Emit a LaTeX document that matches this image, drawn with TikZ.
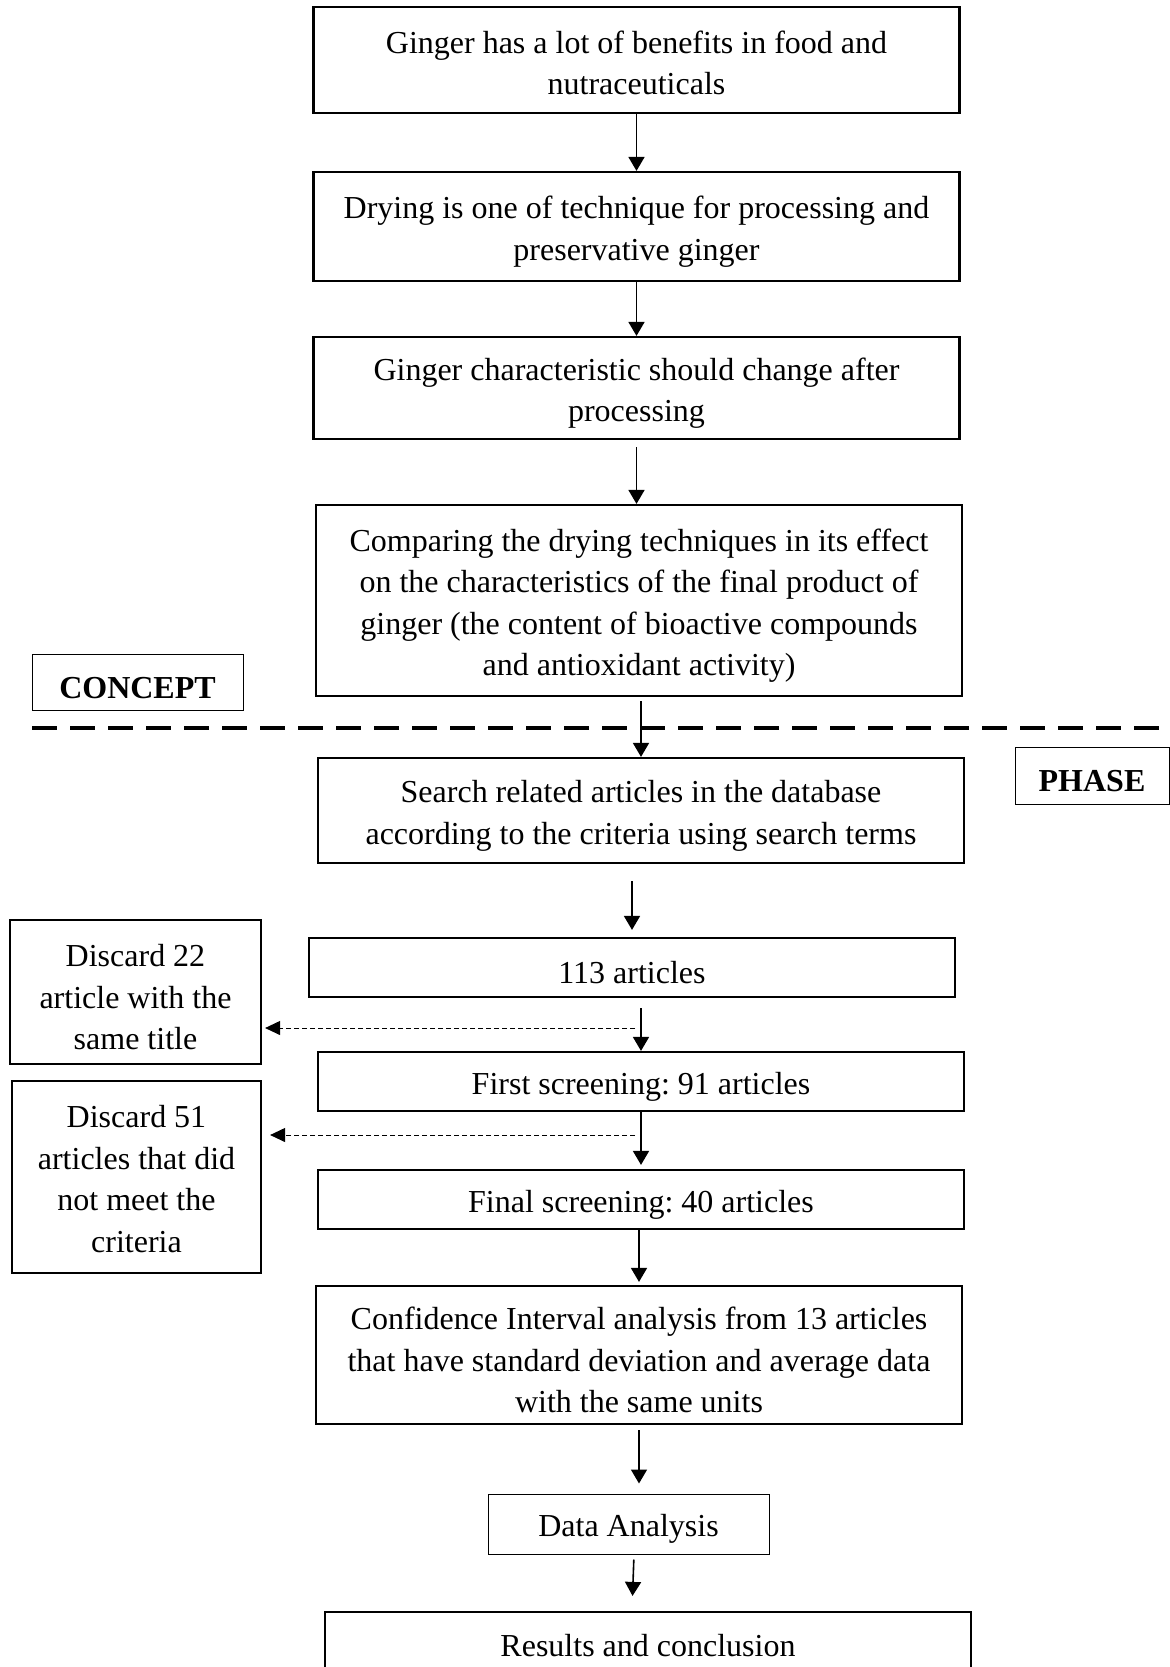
\documentclass[tikz,border=0pt]{standalone}
\usepackage{fontspec}
\setmainfont{Liberation Serif}
\usetikzlibrary{arrows.meta,calc,positioning}
\frenchspacing
\newcommand\gap[1][16.3pt]{\rule{0pt}{#1}}
\tikzset{
  stepbox/.style={draw,line width=1.1pt,minimum width=323pt,inner sep=0pt,align=center,font=\fontsize{16}{20.7}\selectfont},
  sidebox/.style={draw,line width=1.1pt,inner sep=0pt,align=center,font=\fontsize{16}{20.7}\selectfont},
  tagbox/.style={draw,line width=0.5pt,inner sep=0pt,align=center,font=\fontsize{16}{20.7}\selectfont\bfseries},
  arr/.style={-{Triangle[length=7pt,width=8pt]},line width=0.8pt},
  dasharr/.style={-{Triangle[length=7.5pt,width=7pt]},line width=0.5pt,dash pattern=on 2.5pt off 1.5pt},
  sepline/.style={line width=2pt,dash pattern=on 12.5pt off 6.5pt}
}

\begin{document}
\begin{tikzpicture}[x=0.5pt,y=-0.5pt]
  \useasboundingbox (0,0) rectangle (1170,1667);
  \clip (0,0) rectangle (1170,1667);
  % concept part
  \node[stepbox,minimum height=53pt] (benefit) at (636.5,60) {\gap[14.2pt]Ginger has a lot of benefits in food and\\nutraceuticals};
  \node[stepbox,minimum height=54.5pt] (drying) at (636.5,226.5) {\gap Drying is one of technique for processing and\\preservative ginger};
  \node[stepbox,minimum height=51pt] (change) at (636.5,388) {\gap Ginger characteristic should change after\\processing};
  \node[stepbox,minimum height=95.5pt] (compare) at (639,600.5) {\gap Comparing the drying techniques in its effect\\on the characteristics of the final product of\\ginger (the content of bioactive compounds\\and antioxidant activity)};
  \node[tagbox,minimum width=105.5pt,minimum height=28pt] (concept) at (137.5,682) {\gap CONCEPT};
  \draw[sepline] (32,728) -- (1170,728);
  % phase part
  \node[tagbox,minimum width=77pt,minimum height=28.5pt] (phase) at (1092,775.5) {\gap PHASE};
  \node[stepbox,minimum height=52.5pt] (search) at (641,810.5) {\gap Search related articles in the database\\according to the criteria using search terms};
  \node[stepbox,minimum height=29.5pt] (found) at (632,967.5) {\gap 113 articles};
  \node[sidebox,minimum width=125.5pt,minimum height=72pt] (same) at (135.5,992) {\gap Discard 22\\article with the\\same title};
  \node[stepbox,minimum height=29.5pt] (first) at (641,1081.5) {\gap First screening: 91 articles};
  \node[sidebox,minimum width=124.5pt,minimum height=96pt] (unmet) at (136.5,1177) {\gap[13.2pt]Discard 51\\articles that did\\not meet the\\criteria};
  \node[stepbox,minimum height=29.5pt] (final) at (641,1199.5) {\gap Final screening: 40 articles};
  \node[stepbox,minimum height=69pt] (ci) at (639,1355) {\gap Confidence Interval analysis from 13 articles\\that have standard deviation and average data\\with the same units};
  \node[tagbox,font=\fontsize{16}{20.7}\selectfont,minimum width=140.5pt,minimum height=30pt] (analysis) at (628.5,1524) {\gap Data Analysis};
  \node[stepbox,minimum height=28.4pt] (result) at (648,1640.4) {\gap Results and conclusion};
  \coordinate (cut1) at (635,1028);
  \coordinate (cut2) at (635,1135);
  % arrows
  \draw[arr] (benefit.south) -- (drying.north);
  \draw[arr] (drying.south) -- (change.north);
  \draw[arr,shorten <=3.5pt] (change.south) -- (change.south |- compare.north);
  \draw[arr,shorten <=2pt] (search.north |- compare.south) -- (search.north);
  \draw[arr,shorten <=8.5pt,shorten >=3.5pt] (search.south -| found.north) -- (found.north);
  \draw[arr,shorten <=5pt] (first.north |- found.south) -- (first.north);
  \draw[arr,shorten >=2pt] (first.south) -- (final.north);
  \draw[arr,shorten >=1.5pt] (ci.north |- final.south) -- (ci.north);
  \draw[arr,shorten <=2.5pt,shorten >=5pt] (ci.south) -- (ci.south |- analysis.north);
  \draw[arr,shorten <=2.5pt,shorten >=7.5pt] ($(analysis.south)+(5.5,0)$) -- ($(result.north)+(-16,0)$);
  \draw[dasharr,shorten >=1.5pt] (cut1) -- (cut1 -| same.east);
  \draw[dasharr,shorten >=4pt] (cut2) -- (cut2 -| unmet.east);
\end{tikzpicture}
\end{document}
